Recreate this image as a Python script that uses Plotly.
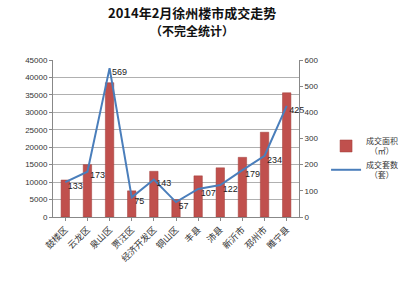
import plotly.graph_objects as go

categories = ["鼓楼区", "云龙区", "泉山区", "贾汪区", "经济开发区", "铜山区", "丰县", "沛县", "新沂市", "邳州市", "睢宁县"]
area = [10600, 15000, 38500, 7500, 13100, 5000, 11800, 14100, 17100, 24300, 35600]
units = [133, 173, 569, 75, 143, 57, 107, 122, 179, 234, 425]
left_ticks = list(range(0, 45001, 5000))
right_ticks = list(range(0, 601, 100))

font = "Noto Sans CJK SC, sans-serif"

fig = go.Figure()
fig.add_trace(go.Bar(
    x=categories, y=area, name="成交面积<br>  （㎡）",
    marker=dict(color="#C0504D", line=dict(color="#A03C39", width=0.5)),
    width=0.38, yaxis="y",
))
fig.add_trace(go.Scatter(
    x=categories, y=units, name="成交套数<br>  （套）", yaxis="y2",
    mode="lines+text", text=[" " + str(v) for v in units], textposition="bottom right",
    textfont=dict(size=9, color="#222", family="Arial"), cliponaxis=False,
    line=dict(color="#4A7EBB", width=2),
))

fig.update_layout(
    width=415, height=289,
    margin=dict(l=53, r=92, t=60, b=72),
    paper_bgcolor="white", plot_bgcolor="white",
    annotations=[
        dict(text="<b>2014年2月徐州楼市成交走势</b>", xref="paper", yref="paper",
             x=0.567, y=1, yshift=48, xanchor="center", yanchor="middle",
             showarrow=False, font=dict(size=13, family=font, color="#111")),
        dict(text="<b>（不完全统计）</b>", xref="paper", yref="paper",
             x=0.567, y=1, yshift=30, xanchor="center", yanchor="middle",
             showarrow=False, font=dict(size=12, family=font, color="#111")),
    ],
    showlegend=True,
    legend=dict(x=1.11, y=0.56, xanchor="left", yanchor="top",
                font=dict(size=8, family=font, color="#333"), itemwidth=30,
                bgcolor="rgba(0,0,0,0)", tracegroupgap=14),
    xaxis=dict(tickangle=-45, tickfont=dict(size=9, family=font, color="#333"),
               showline=True, linecolor="#888", ticks="outside", ticklen=3,
               tickcolor="#888", showgrid=False),
    yaxis=dict(range=[0, 45000], tickvals=left_ticks, ticktext=[str(v) for v in left_ticks],
               showgrid=True, gridcolor="#B0B0B0",
               gridwidth=1, showline=True, linecolor="#888", ticks="outside", ticklen=3,
               tickcolor="#888", tickfont=dict(size=8, family="Arial", color="#333"),
               zeroline=False),
    yaxis2=dict(range=[0, 600], tickvals=right_ticks, overlaying="y", side="right",
                showgrid=False, showline=True, linecolor="#888", ticks="outside",
                ticklen=3, tickcolor="#888",
                tickfont=dict(size=8, family="Arial", color="#333"), zeroline=False),
    bargap=0.6,
)

fig.write_html("out.html")
